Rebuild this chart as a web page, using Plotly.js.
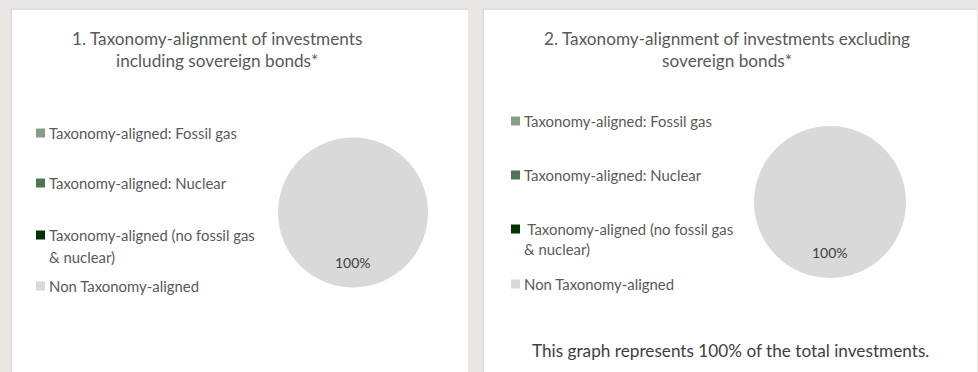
<!DOCTYPE html>
<html>
<head>
<meta charset="utf-8">
<script src="https://cdn.plot.ly/plotly-3.0.1.min.js"></script>
<style>
  html, body { margin: 0; padding: 0; background: #e9e6e3; }
  #chart { width: 978px; height: 372px; }
</style>
</head>
<body>
<div id="chart"></div>
<script>
// Categories shared by both pies
const categories = [
  'Taxonomy-aligned: Fossil gas',
  'Taxonomy-aligned: Nuclear',
  'Taxonomy-aligned (no fossil gas & nuclear)',
  'Non Taxonomy-aligned'
];

// Share of investments per category (%)
const inclSovereignBonds = [0, 0, 0, 100];
const exclSovereignBonds = [0, 0, 0, 100];

// Chart titles and footnote
const chartTitles = [
  '1. Taxonomy-alignment of investments<br>including sovereign bonds*',
  '2. Taxonomy-alignment of investments excluding<br>sovereign bonds*'
];
const footnote = 'This graph represents 100% of the total investments.';

// ---- styling / layout ----
const W = 978, H = 372;
const sliceColors = ['#869e86', '#4f774f', '#003300', '#d9d9d9'];
const FONT = 'Lato, "Open Sans", sans-serif';
const fx = x => x / W;
const fy = y => 1 - y / H;

// Panel geometry in page pixels
const panels = [
  {
    box: [12, 10, 468, 372],
    title: { x: 217, y: 49.5 },
    pie: { cx: 353, cy: 212.5, r: 75 },
    legend: { mx: 40.5, tx: 47, ys: [133, 183, 235, 286], lineGap: 22, indent: '' },
    values: inclSovereignBonds
  },
  {
    box: [484, 10, 977, 372],
    title: { x: 727, y: 49.5 },
    pie: { cx: 830, cy: 202, r: 76 },
    legend: { mx: 515.5, tx: 522, ys: [121, 175, 229, 284], lineGap: 20, indent: '\u00a0' },
    values: exclSovereignBonds
  }
];

const traces = [];
const shapes = [];
const annotations = [];

panels.forEach((p, i) => {
  const [x0, y0, x1, y1] = p.box;
  // panel card with a thin grey edge on top/left
  shapes.push({ type: 'rect', xref: 'paper', yref: 'paper', layer: 'below',
    x0: fx(x0 - 1.5), x1: fx(x1), y0: fy(y1), y1: fy(y0 - 1.5),
    fillcolor: '#dcdcdc', line: { width: 0 } });
  shapes.push({ type: 'rect', xref: 'paper', yref: 'paper', layer: 'below',
    x0: fx(x0), x1: fx(x1), y0: fy(y1), y1: fy(y0),
    fillcolor: '#ffffff', line: { width: 0 } });

  // title
  annotations.push({ xref: 'paper', yref: 'paper', x: fx(p.title.x), y: fy(p.title.y),
    xanchor: 'center', yanchor: 'middle', align: 'center', showarrow: false,
    text: chartTitles[i], font: { family: FONT, size: 17.2, color: '#595959' } });

  // pie
  const c = p.pie;
  traces.push({
    type: 'pie', labels: categories, values: p.values, sort: false,
    direction: 'clockwise', rotation: 0,
    marker: { colors: sliceColors, line: { width: 0 } },
    textinfo: 'none', hoverinfo: 'label+percent', showlegend: false,
    domain: { x: [fx(c.cx - c.r), fx(c.cx + c.r)], y: [fy(c.cy + c.r), fy(c.cy - c.r)] }
  });

  // data labels at 2/3 radius on each non-empty slice's bisector
  const total = p.values.reduce((a, b) => a + b, 0);
  let cum = 0;
  p.values.forEach(v => {
    if (v > 0) {
      const mid = (cum + v / 2) / total * 2 * Math.PI;
      const lx = c.cx + 0.67 * c.r * Math.sin(mid);
      const ly = c.cy - 0.67 * c.r * Math.cos(mid);
      annotations.push({ xref: 'paper', yref: 'paper', x: fx(lx), y: fy(ly),
        xanchor: 'center', yanchor: 'middle', showarrow: false,
        text: Math.round(v / total * 100) + '%',
        font: { family: FONT, size: 14, color: '#404040' } });
    }
    cum += v;
  });

  // legend: square swatch + label lines
  const L = p.legend;
  categories.forEach((cat, k) => {
    const y = L.ys[k];
    shapes.push({ type: 'rect', xref: 'paper', yref: 'paper',
      x0: fx(L.mx - 4.5), x1: fx(L.mx + 4.5), y0: fy(y + 4.5), y1: fy(y - 4.5),
      fillcolor: sliceColors[k], line: { width: 0 } });
    const lines = cat.replace(' & ', '<br>& ').split('<br>');
    lines.forEach((ln, j) => {
      annotations.push({ xref: 'paper', yref: 'paper', x: fx(L.tx), y: fy(y + j * L.lineGap),
        xanchor: 'left', yanchor: 'middle', showarrow: false,
        text: (j === 0 && lines.length > 1 ? L.indent : '') + ln,
        font: { family: FONT, size: 14.9, color: '#595959' } });
    });
  });
});

// footnote under the second chart
annotations.push({ xref: 'paper', yref: 'paper', x: fx(730), y: fy(350),
  xanchor: 'center', yanchor: 'middle', showarrow: false, text: footnote,
  font: { family: FONT, size: 17.2, color: '#404040' } });

Plotly.newPlot('chart', traces, {
  width: W, height: H,
  margin: { l: 0, r: 0, t: 0, b: 0 },
  paper_bgcolor: '#e9e6e3',
  showlegend: false,
  shapes: shapes,
  annotations: annotations
}, { displayModeBar: false, staticPlot: true });
</script>
</body>
</html>
